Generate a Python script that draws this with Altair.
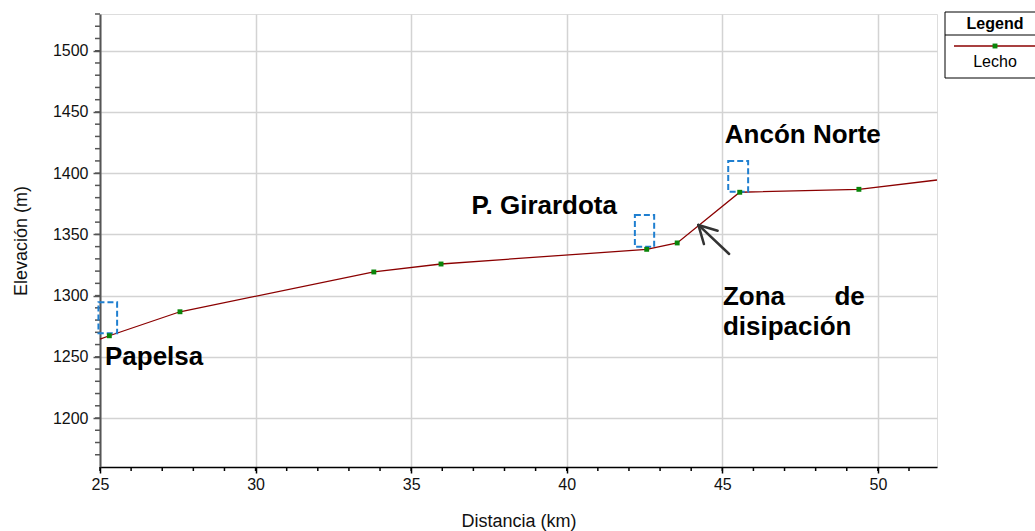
import altair as alt
import pandas as pd

FONT = "Liberation Sans"

# Longitudinal profile of the river bed (km, m a.s.l.)
km = [25.30, 27.57, 33.80, 35.96, 42.57, 43.55, 45.56, 49.39]
elev = [1267.2, 1286.8, 1319.3, 1325.8, 1337.8, 1343.0, 1384.4, 1386.8]
# Profile continues past both edges of the plotted range
edge_km = [25.0, 51.9]
edge_elev = [1264.5, 1394.4]

# Dashed boxes marking the three sites
box_x1 = [24.95, 42.19, 45.19]
box_x2 = [25.55, 42.81, 45.83]
box_y1 = [1269.2, 1339.9, 1384.9]
box_y2 = [1294.5, 1365.8, 1409.9]

# Annotation text
label_text = ["Papelsa", "P. Girardota", "Ancón Norte", "Zona", "disipación"]
label_km = [25.16, 36.94, 45.08, 45.02, 45.02]
label_elev = [1243.3, 1366.4, 1424.4, 1292.7, 1267.8]
right_text = ["de"]
right_km = [49.58]
right_elev = [1292.7]

# Arrow: shaft and two head strokes, all ending at the tip
arrow_x1 = [45.22, 44.85, 44.41]
arrow_y1 = [1334.0, 1353.0, 1342.1]
arrow_x2 = [44.23, 44.23, 44.23]
arrow_y2 = [1357.7, 1357.7, 1357.7]

x_ticks = [25, 30, 35, 40, 45, 50]
y_ticks = [1200, 1250, 1300, 1350, 1400, 1450, 1500]
x_minor = list(range(25, 52))
y_minor = list(range(1170, 1531, 10))

X_DOMAIN = [25, 51.9]
Y_DOMAIN = [1160, 1530]
W, H = 837, 453

xs = alt.Scale(domain=X_DOMAIN, nice=False, zero=False)
ys = alt.Scale(domain=Y_DOMAIN, nice=False, zero=False)

pts = pd.DataFrame({"km": km, "elev": elev})
line_df = pd.DataFrame({"km": edge_km[:1] + km + edge_km[1:],
                        "elev": edge_elev[:1] + elev + edge_elev[1:]})

x_axis = alt.Axis(values=x_ticks, title="Distancia (km)", grid=True,
                  gridColor="#d3d3d3", gridWidth=1.5, domainColor="#000000",
                  domainWidth=1.5, tickColor="#000000", tickSize=6, tickWidth=1.5,
                  labelFont=FONT, labelFontSize=16, labelColor="#111111",
                  labelPadding=3, labelFlush=False, titleFont=FONT, titleFontSize=18,
                  titleFontWeight="normal", titleColor="#111111", titlePadding=20,
                  format="d")
y_axis = alt.Axis(values=y_ticks, title="Elevación (m)", grid=True,
                  gridColor="#d3d3d3", gridWidth=1.5, domainColor="#555555",
                  domainWidth=2, tickColor="#555555", tickSize=7, tickWidth=1.5,
                  labelFont=FONT, labelFontSize=16, labelColor="#111111",
                  labelPadding=5, labelFlush=False, titleFont=FONT, titleFontSize=18,
                  titleFontWeight="normal", titleColor="#111111", titlePadding=22,
                  format="d")

base_line = alt.Chart(line_df).mark_line(color="#8b0000", strokeWidth=1.3).encode(
    x=alt.X("km:Q", scale=xs, axis=x_axis),
    y=alt.Y("elev:Q", scale=ys, axis=y_axis),
)

markers = alt.Chart(pts).mark_point(shape="square", filled=True, color="#0a850a",
                                    size=24, opacity=1).encode(
    x=alt.X("km:Q", scale=xs), y=alt.Y("elev:Q", scale=ys))

# Minor ticks along both axes
ym = alt.Chart(pd.DataFrame({"v": y_minor})).mark_rule(color="#555555", strokeWidth=1.5).encode(
    y=alt.Y("v:Q", scale=ys), x=alt.value(-5), x2=alt.value(0))
xm = alt.Chart(pd.DataFrame({"v": x_minor})).mark_rule(color="#000000", strokeWidth=1.5).encode(
    x=alt.X("v:Q", scale=xs), y=alt.value(H), y2=alt.value(H + 4))

boxes = alt.Chart(pd.DataFrame({"x1": box_x1, "x2": box_x2, "y1": box_y1, "y2": box_y2})).mark_rect(
    fill=None, fillOpacity=0, stroke="#1f7fd0", strokeWidth=2, strokeDash=[6, 3]).encode(
    x=alt.X("x1:Q", scale=xs), x2="x2:Q", y=alt.Y("y1:Q", scale=ys), y2="y2:Q")

labels = alt.Chart(pd.DataFrame({"t": label_text, "km": label_km, "elev": label_elev})).mark_text(
    align="left", baseline="alphabetic", font=FONT, fontSize=26, fontWeight="bold",
    color="#000000").encode(x=alt.X("km:Q", scale=xs), y=alt.Y("elev:Q", scale=ys), text="t:N")
labels_r = alt.Chart(pd.DataFrame({"t": right_text, "km": right_km, "elev": right_elev})).mark_text(
    align="right", baseline="alphabetic", font=FONT, fontSize=26, fontWeight="bold",
    color="#000000").encode(x=alt.X("km:Q", scale=xs), y=alt.Y("elev:Q", scale=ys), text="t:N")

arrow = alt.Chart(pd.DataFrame({"x1": arrow_x1, "y1": arrow_y1, "x2": arrow_x2, "y2": arrow_y2})).mark_rule(
    color="#333333", strokeWidth=2.5, strokeCap="round").encode(
    x=alt.X("x1:Q", scale=xs), y=alt.Y("y1:Q", scale=ys), x2="x2:Q", y2="y2:Q")

# Legend box to the right of the plot
one = pd.DataFrame({"k": [0]})
leg_box = alt.Chart(one).mark_rect(fill="white", stroke="#000000", strokeWidth=1).encode(
    x=alt.value(845), x2=alt.value(945), y=alt.value(-2), y2=alt.value(64))
leg_sep = alt.Chart(one).mark_rule(color="#000000", strokeWidth=1).encode(
    x=alt.value(845), x2=alt.value(945), y=alt.value(21))
leg_line = alt.Chart(one).mark_rule(color="#8b0000", strokeWidth=1.3).encode(
    x=alt.value(854), x2=alt.value(945), y=alt.value(32))
leg_pt = alt.Chart(one).mark_point(shape="square", filled=True, color="#0a850a", size=24,
                                   opacity=1).encode(x=alt.value(895), y=alt.value(32))
leg_title = alt.Chart(one).mark_text(text="Legend", font=FONT, fontSize=16, fontWeight="bold",
                                     align="center", baseline="middle", color="#000000").encode(
    x=alt.value(895), y=alt.value(10))
leg_lab = alt.Chart(one).mark_text(text="Lecho", font=FONT, fontSize=16, align="center",
                                   baseline="middle", color="#000000").encode(
    x=alt.value(895), y=alt.value(48))

chart = alt.layer(
    base_line, ym, xm, boxes, markers, labels, labels_r, arrow,
    leg_box, leg_sep, leg_line, leg_pt, leg_title, leg_lab,
).properties(
    width=W, height=H,
    autosize=alt.AutoSizeParams(type="none"),
    padding={"left": 100, "top": 14, "right": 98, "bottom": 64},
).configure_view(stroke=None).configure(background="white")

chart.save("out.html", embed_options={"renderer": "svg", "actions": False})
